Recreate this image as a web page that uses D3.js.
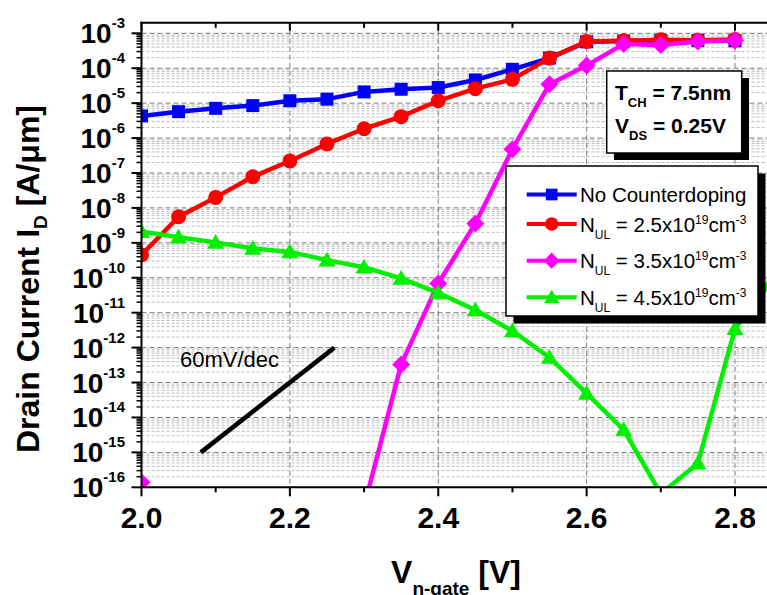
<!DOCTYPE html>
<html>
<head>
<meta charset="utf-8">
<script src="https://cdn.jsdelivr.net/npm/d3@7"></script>
<style>
  body { margin: 0; background: #fff; }
  svg { display: block; font-family: "Liberation Sans", Arial, sans-serif; }
</style>
</head>
<body>
<div id="chart"></div>
<script>
// gate voltage sweep [V]
const vgate = [2.0, 2.05, 2.1, 2.15, 2.2, 2.25, 2.3, 2.35, 2.4, 2.45, 2.5, 2.55, 2.6, 2.65, 2.7, 2.75, 2.8];
// the green curve has one more point just past the right edge
const vgateGreen = [2.0, 2.05, 2.1, 2.15, 2.2, 2.25, 2.3, 2.35, 2.4, 2.45, 2.5, 2.55, 2.6, 2.65, 2.7, 2.75, 2.8, 2.85];

// drain current [A/um]
const idNoCounter = [4.3e-6, 5.7e-6, 7.1e-6, 8.5e-6, 1.17e-5, 1.3e-5, 2.1e-5, 2.5e-5, 2.8e-5, 4.6e-5, 9.3e-5, 1.95e-4, 5.7e-4, 6.0e-4, 6.2e-4, 6.2e-4, 6.1e-4];
const idNul25 = [4.5e-10, 5.6e-9, 2.0e-8, 7.8e-8, 2.2e-7, 6.8e-7, 1.85e-6, 4.1e-6, 1.17e-5, 2.6e-5, 4.8e-5, 1.95e-4, 5.8e-4, 6.1e-4, 6.5e-4, 6.3e-4, 6.6e-4];
const idNul35 = [1.4e-16, 1e-18, 1e-18, 1e-18, 1e-18, 1e-18, 2.8e-17, 3.3e-13, 6.9e-11, 3.6e-9, 4.8e-7, 3.5e-5, 1.2e-4, 4.9e-4, 4.6e-4, 5.8e-4, 6.2e-4];
const idNul45 = [2.1e-9, 1.45e-9, 1.03e-9, 6.9e-10, 5.5e-10, 3.2e-10, 2.0e-10, 9.6e-11, 3.7e-11, 1.2e-11, 3.0e-12, 5.2e-13, 4.9e-14, 4.4e-15, 6.5e-17, 4.9e-16, 3.5e-12, 8.5e-11];

// 60 mV/dec reference slope
const slopeV = [2.08, 2.26];
const slopeI = [1e-15, 1e-12];

const xMajor = [2.0, 2.2, 2.4, 2.6, 2.8];
const xMinor = [2.1, 2.3, 2.5, 2.7];
const decades = d3.range(-16, -2); // 1e-16 .. 1e-3

const series = [
  {name: 'none', x: vgate, y: idNoCounter, color: '#0000ff', marker: 'square', dens: null},
  {name: '2.5', x: vgate, y: idNul25, color: '#ff0000', marker: 'circle', dens: '2.5'},
  {name: '3.5', x: vgate, y: idNul35, color: '#ff00ff', marker: 'diamond', dens: '3.5'},
  {name: '4.5', x: vgateGreen, y: idNul45, color: '#00f000', marker: 'triangle', dens: '4.5'}
];

const svgWidth = 767, svgHeight = 595;

const x = d3.scaleLinear().domain([2.0, 2.8]).range([141.5, 735]);
const y = d3.scaleLog().domain([1e-16, 1e-3]).range([487.3, 33.3]);

const plotLeft = x(2.0), plotRight = svgWidth;
const plotTop = y(2e-3), plotBottom = y(1e-16);

const svg = d3.select('#chart').append('svg')
  .attr('width', svgWidth)
  .attr('height', svgHeight);

svg.append('clipPath').attr('id', 'plot-clip')
  .append('rect')
  .attr('x', plotLeft).attr('y', plotTop)
  .attr('width', plotRight - plotLeft).attr('height', plotBottom - plotTop);

//helper for text with sub/superscripts, parts = [{t, size, shift}]
const richText = (sel, parts) => {
  let cur = 0;
  parts.forEach(p => {
    sel.append('tspan')
      .attr('dy', (p.shift || 0) - cur)
      .style('font-size', p.size + 'px')
      .text(p.t);
    cur = p.shift || 0;
  });
  return sel;
};

//grid
const grid = svg.append('g').attr('class', 'grid');
const minorVals = [];
decades.slice(0, -1).forEach(d => {
  for (let k = 2; k <= 9; k++) minorVals.push(k * Math.pow(10, d));
});
grid.selectAll('.minor-h')
  .data(minorVals).enter()
  .append('line')
  .attr('x1', plotLeft).attr('x2', plotRight)
  .attr('y1', d => y(d)).attr('y2', d => y(d))
  .attr('stroke', '#bdbdbd')
  .attr('stroke-width', 1)
  .attr('stroke-dasharray', '3,2');

grid.selectAll('.major-h')
  .data(decades).enter()
  .append('line')
  .attr('x1', plotLeft).attr('x2', plotRight)
  .attr('y1', d => y(Math.pow(10, d))).attr('y2', d => y(Math.pow(10, d)))
  .attr('stroke', '#7a7a7a')
  .attr('stroke-width', 1)
  .attr('stroke-dasharray', '5,3');

grid.selectAll('.major-v')
  .data(xMajor.slice(1)).enter()
  .append('line')
  .attr('x1', d => x(d)).attr('x2', d => x(d))
  .attr('y1', plotTop).attr('y2', plotBottom)
  .attr('stroke', '#7a7a7a')
  .attr('stroke-width', 1)
  .attr('stroke-dasharray', '5,3');

//60mV/dec reference line
svg.append('line')
  .attr('x1', x(slopeV[0])).attr('y1', y(slopeI[0]))
  .attr('x2', x(slopeV[1])).attr('y2', y(slopeI[1]))
  .attr('stroke', '#000')
  .attr('stroke-width', 4.5);

svg.append('text')
  .attr('x', 180).attr('y', 367)
  .style('font-size', '22px')
  .text('60mV/dec');

//marker shapes
const drawMarker = (g, type, cx, cy, color, s) => {
  if (type === 'square') {
    g.append('rect').attr('x', cx - 6.5 * s).attr('y', cy - 6.5 * s)
      .attr('width', 13 * s).attr('height', 13 * s).attr('fill', color);
  } else if (type === 'circle') {
    g.append('circle').attr('cx', cx).attr('cy', cy).attr('r', 7.5 * s).attr('fill', color);
  } else if (type === 'diamond') {
    const r = 9 * s;
    g.append('path').attr('d', `M${cx},${cy - r}L${cx + r},${cy}L${cx},${cy + r}L${cx - r},${cy}Z`).attr('fill', color);
  } else {
    const h = 14 * s, w = 8.5 * s;
    g.append('path').attr('d', `M${cx},${cy - h * 0.6}L${cx + w},${cy + h * 0.45}L${cx - w},${cy + h * 0.45}Z`).attr('fill', color);
  }
};

//curves
const curves = svg.append('g').attr('clip-path', 'url(#plot-clip)');
const line = d3.line().x(d => x(d[0])).y(d => y(d[1]));

series.forEach(s => {
  const pts = s.x.map((v, i) => [v, s.y[i]]);
  const g = curves.append('g');
  g.append('path')
    .attr('d', line(pts))
    .attr('fill', 'none')
    .attr('stroke', s.color)
    .attr('stroke-width', 4.5)
    .attr('stroke-linejoin', 'round');
  pts.forEach(p => drawMarker(g, s.marker, x(p[0]), y(p[1]), s.color, 1));
});

//axes frame
const axes = svg.append('g').attr('class', 'axes');
axes.append('line').attr('x1', plotLeft).attr('x2', plotLeft).attr('y1', plotTop - 1).attr('y2', plotBottom + 1)
  .attr('stroke', '#000').attr('stroke-width', 2);
axes.append('line').attr('x1', plotLeft - 1).attr('x2', plotRight).attr('y1', plotTop).attr('y2', plotTop)
  .attr('stroke', '#000').attr('stroke-width', 2);
axes.append('line').attr('x1', plotLeft - 1).attr('x2', plotRight).attr('y1', plotBottom).attr('y2', plotBottom)
  .attr('stroke', '#000').attr('stroke-width', 2);

//x ticks (bottom out, top in)
xMajor.forEach(v => {
  axes.append('line').attr('x1', x(v)).attr('x2', x(v)).attr('y1', plotBottom).attr('y2', plotBottom + 9)
    .attr('stroke', '#000').attr('stroke-width', 2);
  axes.append('line').attr('x1', x(v)).attr('x2', x(v)).attr('y1', plotTop).attr('y2', plotTop + 8)
    .attr('stroke', '#000').attr('stroke-width', 2);
});
xMinor.forEach(v => {
  axes.append('line').attr('x1', x(v)).attr('x2', x(v)).attr('y1', plotBottom).attr('y2', plotBottom + 5)
    .attr('stroke', '#000').attr('stroke-width', 2);
  axes.append('line').attr('x1', x(v)).attr('x2', x(v)).attr('y1', plotTop).attr('y2', plotTop + 5)
    .attr('stroke', '#000').attr('stroke-width', 2);
});

axes.selectAll('.xlab')
  .data(xMajor).enter()
  .append('text')
  .attr('x', d => x(d)).attr('y', 528)
  .attr('text-anchor', 'middle')
  .style('font-size', '30px').style('font-weight', 'bold')
  .text(d => d3.format('.1f')(d));

//y ticks
decades.forEach(d => {
  axes.append('line').attr('x1', plotLeft - 10).attr('x2', plotLeft)
    .attr('y1', y(Math.pow(10, d))).attr('y2', y(Math.pow(10, d)))
    .attr('stroke', '#000').attr('stroke-width', 2);
});
minorVals.forEach(v => {
  axes.append('line').attr('x1', plotLeft - 5).attr('x2', plotLeft)
    .attr('y1', y(v)).attr('y2', y(v))
    .attr('stroke', '#000').attr('stroke-width', 1.5);
});

decades.forEach(d => {
  const t = axes.append('text')
    .attr('x', 125).attr('y', y(Math.pow(10, d)) + 10)
    .attr('text-anchor', 'end')
    .style('font-weight', 'bold');
  richText(t, [{t: '10', size: 28, shift: 0}, {t: String(d), size: 15, shift: -15}]);
});

//axis titles
const yTitle = svg.append('text')
  .attr('transform', 'translate(38.5, 279) rotate(-90)')
  .attr('text-anchor', 'middle')
  .style('font-weight', 'bold');
richText(yTitle, [
  {t: 'Drain Current I', size: 32, shift: 0},
  {t: 'D', size: 19, shift: 8},
  {t: ' [A/\u03bcm]', size: 32, shift: 0}
]);

const xTitle = svg.append('text')
  .attr('x', 456).attr('y', 582.7)
  .attr('text-anchor', 'middle')
  .style('font-weight', 'bold');
richText(xTitle, [
  {t: 'V', size: 32, shift: 0},
  {t: 'n-gate', size: 19, shift: 12},
  {t: ' [V]', size: 32, shift: 0}
]);

//device parameter box
const info = svg.append('g').attr('class', 'info');
info.append('rect').attr('x', 614).attr('y', 78).attr('width', 135).attr('height', 82).attr('fill', '#000');
info.append('rect').attr('x', 606.7).attr('y', 71).attr('width', 135).attr('height', 82)
  .attr('fill', '#fff').attr('stroke', '#000').attr('stroke-width', 1.5);
richText(info.append('text').attr('x', 615).attr('y', 100).style('font-weight', 'bold'), [
  {t: 'T', size: 21, shift: 0}, {t: 'CH', size: 13, shift: 7}, {t: ' = 7.5nm', size: 21, shift: 0}
]);
richText(info.append('text').attr('x', 615).attr('y', 133.3).style('font-weight', 'bold'), [
  {t: 'V', size: 21, shift: 0}, {t: 'DS', size: 13, shift: 7}, {t: ' = 0.25V', size: 21, shift: 0}
]);

//legend
const legend = svg.append('g').attr('class', 'legend');
legend.append('rect').attr('x', 513.5).attr('y', 173.5).attr('width', 252).attr('height', 150).attr('fill', '#000');
legend.append('rect').attr('x', 506).attr('y', 166).attr('width', 252).attr('height', 150)
  .attr('fill', '#fff').attr('stroke', '#000').attr('stroke-width', 1.5);

const rowY = [194.5, 224, 260.7, 297.3];
series.forEach((s, i) => {
  const cy = rowY[i];
  legend.append('line').attr('x1', 526.7).attr('x2', 576.7).attr('y1', cy).attr('y2', cy)
    .attr('stroke', s.color).attr('stroke-width', 4);
  drawMarker(legend, s.marker, 551.7, cy, s.color, 0.9);
  const t = legend.append('text').attr('x', 580).attr('y', cy + 7.5);
  if (s.dens === null) {
    t.style('font-size', '20.5px').text('No Counterdoping');
  } else {
    richText(t, [
      {t: 'N', size: 20.5, shift: 0},
      {t: 'UL', size: 12, shift: 7},
      {t: ' = ' + s.dens + 'x10', size: 20.5, shift: 0},
      {t: '19', size: 12, shift: -8},
      {t: 'cm', size: 20.5, shift: 0},
      {t: '-3', size: 12, shift: -8}
    ]);
  }
});
</script>
</body>
</html>
